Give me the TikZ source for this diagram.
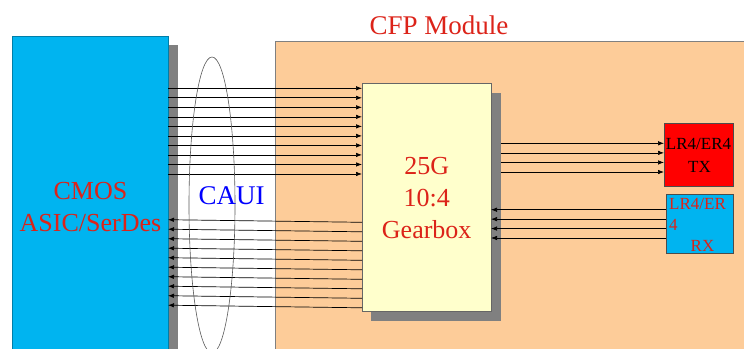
\documentclass[tikz,border=0pt]{standalone}
\usepackage{fontspec}
\setmainfont{Liberation Serif}
\usetikzlibrary{arrows.meta,shapes.geometric}
\definecolor{asicblue}{RGB}{0,180,240}
\definecolor{modorange}{RGB}{253,204,153}
\definecolor{gearyellow}{RGB}{255,255,204}
\definecolor{shadowgray}{RGB}{128,128,128}
\definecolor{txtred}{RGB}{220,35,25}
\definecolor{cauiblue}{RGB}{0,0,255}
\begin{document}
\begin{tikzpicture}[x=1pt,y=-1pt,
  blockbox/.style={anchor=north west, inner sep=0pt, outer sep=0pt, line width=0.6pt},
  shadowbox/.style={anchor=north west, inner sep=0pt, outer sep=0pt, fill=shadowgray, draw=none},
  arr/.style={-{Latex[length=6pt,width=4.5pt]}, line width=0.7pt, black},
  bigtext/.style={font=\fontsize{26}{30}\selectfont, anchor=base, inner sep=0pt},
  smalltext/.style={font=\fontsize{17}{20}\selectfont, anchor=base, inner sep=0pt}]

\useasboundingbox (0,0) rectangle (744,348);
\fill[white] (0,0) rectangle (744,348);

% CFP module background
\node[blockbox, fill=modorange, draw=gray, minimum width=480pt, minimum height=320pt] (module) at (275,41) {};
\node[txtred, font=\fontsize{27}{30}\selectfont, anchor=base, inner sep=0pt] (cfp) at (439,34) {CFP Module};

% ASIC block
\node[shadowbox, minimum width=10pt, minimum height=310pt] (asicshadow) at (168,45) {};
\node[blockbox, fill=asicblue, draw=asicblue!70!black, minimum width=156pt, minimum height=320pt] (asic) at (12,36) {};
\node[bigtext, txtred] (cmos) at (90.5,199.3) {CMOS};
\node[bigtext, txtred] (asicsd) at (90.5,231.7) {ASIC/SerDes};

% Gearbox
\node[shadowbox, minimum width=130pt, minimum height=228pt] (gshadow) at (371,93) {};
\node[blockbox, fill=gearyellow, draw=black!60, minimum width=129pt, minimum height=228pt] (gear) at (362,83) {};
\node[bigtext, txtred] (g1) at (426.7,174.5) {25G};
\node[bigtext, txtred] (g2) at (426.7,206.5) {10:4};
\node[bigtext, txtred] (g3) at (426.7,238.5) {Gearbox};

% TX / RX optics
\node[blockbox, fill=red, draw=black!70, minimum width=69pt, minimum height=63pt] (tx) at (664,123) {};
\node[smalltext, black] (tx1) at (698.5,149) {LR4/ER4};
\node[smalltext, black] (tx2) at (699.5,172.3) {TX};
\node[blockbox, fill=asicblue, draw=black!70, minimum width=67pt, minimum height=59pt] (rx) at (666,194) {};
\node[smalltext, txtred, anchor=base west] (rx1) at (669,209.3) {LR4/ER};
\node[smalltext, txtred, anchor=base west] (rx2) at (669,230) {4};
\node[smalltext, txtred, anchor=base west] (rx3) at (690.5,251) {RX};

% CAUI lanes: ASIC -> gearbox
\foreach \i in {0,...,9} {
  \pgfmathsetmacro\yy{88.3+9.52*\i}
  \coordinate (t\i) at (0,\yy);
  \draw[arr] (asic.east |- t\i) -- (gear.west |- t\i);
}
% CAUI lanes: gearbox -> ASIC
\foreach \i in {0,...,9} {
  \pgfmathsetmacro\yr{222.3+9.5*\i}
  \pgfmathsetmacro\yl{219.7+9.5*\i}
  \coordinate (r\i) at (0,\yr);
  \coordinate (l\i) at (0,\yl);
  \draw[arr] (gear.west |- r\i) -- (asic.east |- l\i);
}
% gearbox -> TX
\foreach \i in {0,...,3} {
  \pgfmathsetmacro\yy{143.3+9.57*\i}
  \coordinate (x\i) at (0,\yy);
  \draw[arr] (gshadow.east |- x\i) -- (tx.west |- x\i);
}
% RX -> gearbox
\foreach \i in {0,...,3} {
  \pgfmathsetmacro\yy{209.7+9.43*\i}
  \coordinate (v\i) at (0,\yy);
  \draw[arr] (rx.west |- v\i) -- (gear.east |- v\i);
}

% CAUI ring and label
\node[ellipse, draw=black!65, line width=0.6pt, minimum width=46pt, minimum height=296pt, inner sep=0pt] (ring) at (212,205) {};
\node[bigtext, cauiblue, font=\fontsize{27}{30}\selectfont] (caui) at (231.7,204) {CAUI};
\end{tikzpicture}
\end{document}
